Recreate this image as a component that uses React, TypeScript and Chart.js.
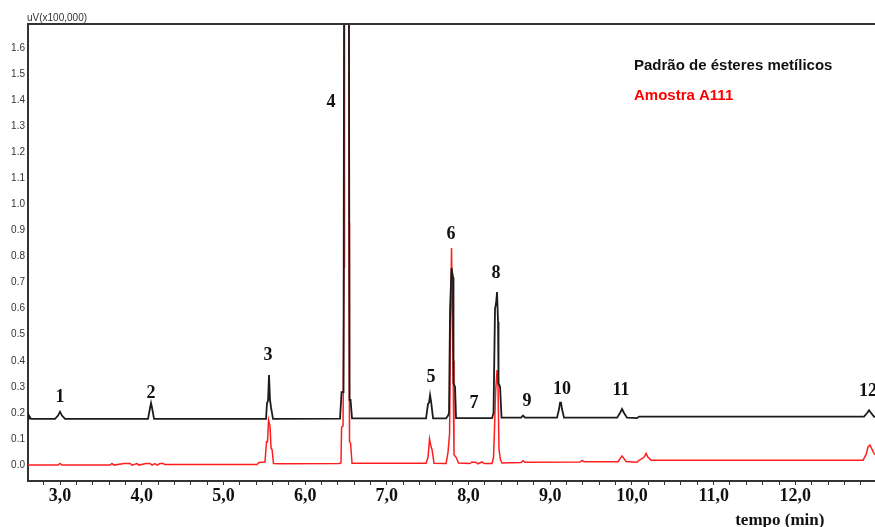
import React, { useEffect, useRef } from 'react';
import { Chart, registerables } from 'chart.js';

Chart.register(...registerables);

// ---- data (time in minutes, signal in uV x 100,000) ----
const seriesNames = ['Padrão de ésteres metílicos', 'Amostra A111'];
const yAxisUnit = 'uV(x100,000)';
const xAxisTitle = 'tempo (min)';

const blackTimes = [
  2.608, 2.620, 2.645, 2.939, 2.976, 3.000, 3.024, 3.061,
  4.077, 4.102, 4.114, 4.126, 4.151,
  5.521, 5.534, 5.546, 5.558, 5.570, 5.583, 5.607,
  6.427, 6.446, 6.470, 6.482, 6.531, 6.543, 6.556, 6.574,
  7.480, 7.504, 7.517, 7.529, 7.541, 7.566,
  7.725, 7.749, 7.761, 7.774, 7.792, 7.810, 7.816, 7.835, 7.847,
  8.288, 8.306, 8.324, 8.337, 8.349, 8.361, 8.367, 8.386, 8.404,
  8.643, 8.667, 8.692,
  9.083, 9.108, 9.120, 9.132, 9.144, 9.169,
  9.818, 9.854, 9.879, 9.903, 9.940,
  10.062, 10.087,
  12.841, 12.878, 12.902, 12.927, 12.963, 12.975,
];
const blackValues = [
  0.178, 0.19, 0.177, 0.177, 0.19, 0.205, 0.19, 0.177,
  0.177, 0.22, 0.238, 0.22, 0.177,
  0.177, 0.24, 0.245, 0.345, 0.25, 0.22, 0.177,
  0.178, 0.28, 0.28, 3.0, 3.0, 0.25, 0.25, 0.179,
  0.179, 0.235, 0.24, 0.268, 0.245, 0.179,
  0.179, 0.19, 0.20, 0.60, 0.756, 0.72, 0.315, 0.30, 0.18,
  0.18, 0.20, 0.60, 0.62, 0.664, 0.55, 0.315, 0.30, 0.182,
  0.182, 0.19, 0.182,
  0.182, 0.215, 0.24, 0.24, 0.215, 0.182,
  0.182, 0.20, 0.215, 0.20, 0.182,
  0.180, 0.186,
  0.186, 0.20, 0.21, 0.20, 0.186, 0.185,
];

const redTimes = [
  2.608, 2.976, 3.000, 3.024,
  3.612, 3.636, 3.661, 3.783, 3.857, 3.881, 3.942, 3.967, 4.053, 4.102, 4.126, 4.163, 4.187, 4.224, 4.261, 4.285,
  5.411, 5.436, 5.509, 5.527, 5.540, 5.552, 5.570, 5.583, 5.595, 5.613, 5.693,
  6.415, 6.439, 6.446, 6.464, 6.476, 6.482, 6.531, 6.537, 6.543, 6.556, 6.574,
  7.480, 7.504, 7.523, 7.541, 7.553, 7.578,
  7.725, 7.749, 7.768, 7.780, 7.792, 7.810, 7.822, 7.847, 7.878,
  8.018, 8.043, 8.092, 8.116, 8.165, 8.190,
  8.288, 8.306, 8.318, 8.331, 8.349, 8.361, 8.373, 8.391, 8.410,
  8.643, 8.667, 8.692,
  9.365, 9.389, 9.414,
  9.830, 9.854, 9.879, 9.903, 9.928,
  10.062, 10.087, 10.148, 10.173, 10.197, 10.234,
  12.829, 12.865, 12.890, 12.914, 12.939, 12.963, 12.975,
];
const redValues = [
  0.0, 0.0, 0.006, 0.0,
  0.0, 0.006, 0.0, 0.006, 0.006, 0.0, 0.006, 0.0, 0.006, 0.006, 0.0, 0.006, 0.0, 0.006, 0.006, 0.002,
  0.002, 0.01, 0.012, 0.09, 0.09, 0.173, 0.15, 0.065, 0.06, 0.006, 0.005,
  0.006, 0.008, 0.146, 0.15, 0.76, 3.0, 3.0, 0.93, 0.09, 0.084, 0.007,
  0.007, 0.03, 0.10, 0.07, 0.06, 0.007,
  0.006, 0.05, 0.12, 0.55, 0.833, 0.40, 0.04, 0.03, 0.008,
  0.006, 0.012, 0.01, 0.005, 0.012, 0.006,
  0.006, 0.03, 0.14, 0.28, 0.365, 0.30, 0.06, 0.02, 0.008,
  0.01, 0.017, 0.011,
  0.012, 0.018, 0.013,
  0.013, 0.025, 0.035, 0.025, 0.014,
  0.011, 0.018, 0.03, 0.045, 0.03, 0.019,
  0.019, 0.04, 0.07, 0.077, 0.06, 0.045, 0.04,
];

// peak numbering annotations (time, signal)
const peakNames = ['1', '2', '3', '4', '5', '6', '7', '8', '9', '10', '11', '12'];
const peakTimes = [3.0, 4.114, 5.546, 6.316, 7.541, 7.786, 8.067, 8.337, 8.716, 9.144, 9.867, 12.89];
const peakHeights = [0.261, 0.276, 0.422, 1.393, 0.338, 0.886, 0.238, 0.737, 0.246, 0.292, 0.288, 0.284];

const xTickValues = [3, 4, 5, 6, 7, 8, 9, 10, 11, 12];
const xTickLabels = ['3,0', '4,0', '5,0', '6,0', '7,0', '8,0', '9,0', '10,0', '11,0', '12,0'];
const xTitleTime = 11.81;

const BLACK = '#1c1c1c';
const RED = '#ff1e1e';
const SERIF = "'Liberation Serif', 'Times New Roman', serif";
const SANS = "'Liberation Sans', Arial, sans-serif";

export default function App() {
  const ref = useRef<HTMLCanvasElement>(null);

  useEffect(() => {
    const canvas = ref.current;
    if (!canvas) return;

    const annot = {
      id: 'annot',
      afterDraw(chart: any) {
        const { ctx, chartArea, scales } = chart;
        const xs = scales.x;
        const ys = scales.y;
        ctx.save();
        // top frame line
        ctx.strokeStyle = '#333';
        ctx.lineWidth = 2;
        ctx.beginPath();
        ctx.moveTo(chartArea.left - 1, chartArea.top);
        ctx.lineTo(chartArea.right, chartArea.top);
        ctx.stroke();
        // unit label
        ctx.font = `10px ${SANS}`;
        ctx.fillStyle = '#333';
        ctx.textAlign = 'left';
        ctx.textBaseline = 'bottom';
        ctx.fillText(yAxisUnit, chartArea.left - 1, chartArea.top - 1);
        // peak labels
        ctx.font = `bold 18px ${SERIF}`;
        ctx.fillStyle = '#111';
        ctx.textAlign = 'center';
        ctx.textBaseline = 'middle';
        peakNames.forEach((n, i) => {
          ctx.fillText(n, xs.getPixelForValue(peakTimes[i]), ys.getPixelForValue(peakHeights[i]));
        });
        // legend
        ctx.font = `bold 15px ${SANS}`;
        ctx.textAlign = 'left';
        ctx.fillStyle = '#111';
        ctx.fillText(seriesNames[0], chartArea.left + 606, 66);
        ctx.fillStyle = '#ff0000';
        ctx.fillText(seriesNames[1], chartArea.left + 606, 96);
        // x title
        ctx.font = `bold 17px ${SERIF}`;
        ctx.fillStyle = '#111';
        ctx.textAlign = 'center';
        ctx.fillText(xAxisTitle, xs.getPixelForValue(xTitleTime), chartArea.bottom + 40);
        ctx.restore();
      },
    };

    const chart = new Chart(canvas, {
      type: 'line',
      data: {
        datasets: [
          {
            label: seriesNames[0],
            data: blackTimes.map((t, i) => ({ x: t, y: blackValues[i] })),
            borderColor: BLACK,
            borderWidth: 1.8,
            pointRadius: 0,
            tension: 0,
            fill: false,
          },
          {
            label: seriesNames[1],
            data: redTimes.map((t, i) => ({ x: t, y: redValues[i] })),
            borderColor: RED,
            borderWidth: 1.5,
            pointRadius: 0,
            tension: 0,
            fill: false,
          },
        ],
      },
      options: {
        animation: false,
        responsive: false,
        devicePixelRatio: 1,
        layout: { padding: { top: 24, left: 0, right: 0, bottom: 0 } },
        plugins: { legend: { display: false }, tooltip: { enabled: false }, title: { display: false } },
        scales: {
          x: {
            type: 'linear',
            min: 2.608,
            max: 12.975,
            afterFit: (s: any) => { s.height = 46; },
            border: { color: '#333', width: 2 },
            grid: { drawOnChartArea: false, drawTicks: true, tickLength: 4, color: '#333', lineWidth: 1 },
            ticks: {
              stepSize: 0.2,
              includeBounds: false,
              autoSkip: false,
              maxRotation: 0,
              minRotation: 0,
              padding: 1,
              color: '#111',
              font: { family: SERIF, size: 18, weight: 'bold' },
              callback: (v: any) => {
                const n = Number(v);
                const idx = xTickValues.findIndex((tv) => Math.abs(tv - n) < 1e-6);
                return idx >= 0 ? xTickLabels[idx] : '';
              },
            },
          },
          y: {
            type: 'linear',
            min: -0.061,
            max: 1.692,
            afterFit: (s: any) => { s.width = 28; },
            border: { color: '#333', width: 2 },
            grid: { drawOnChartArea: false, drawTicks: false },
            ticks: {
              stepSize: 0.1,
              includeBounds: false,
              padding: 3,
              color: '#333',
              font: { family: SANS, size: 10 },
              callback: (v: any) => {
                const n = Number(v);
                return (Math.abs(n) < 1e-9 ? 0 : n).toFixed(1);
              },
            },
          },
        },
      },
      plugins: [annot],
    } as any);

    return () => chart.destroy();
  }, []);

  return (
    <div style={{ position: 'fixed', left: 0, top: 0, width: 875, height: 527, background: '#fff' }}>
      <canvas ref={ref} width={875} height={527} style={{ display: 'block' }} />
    </div>
  );
}
